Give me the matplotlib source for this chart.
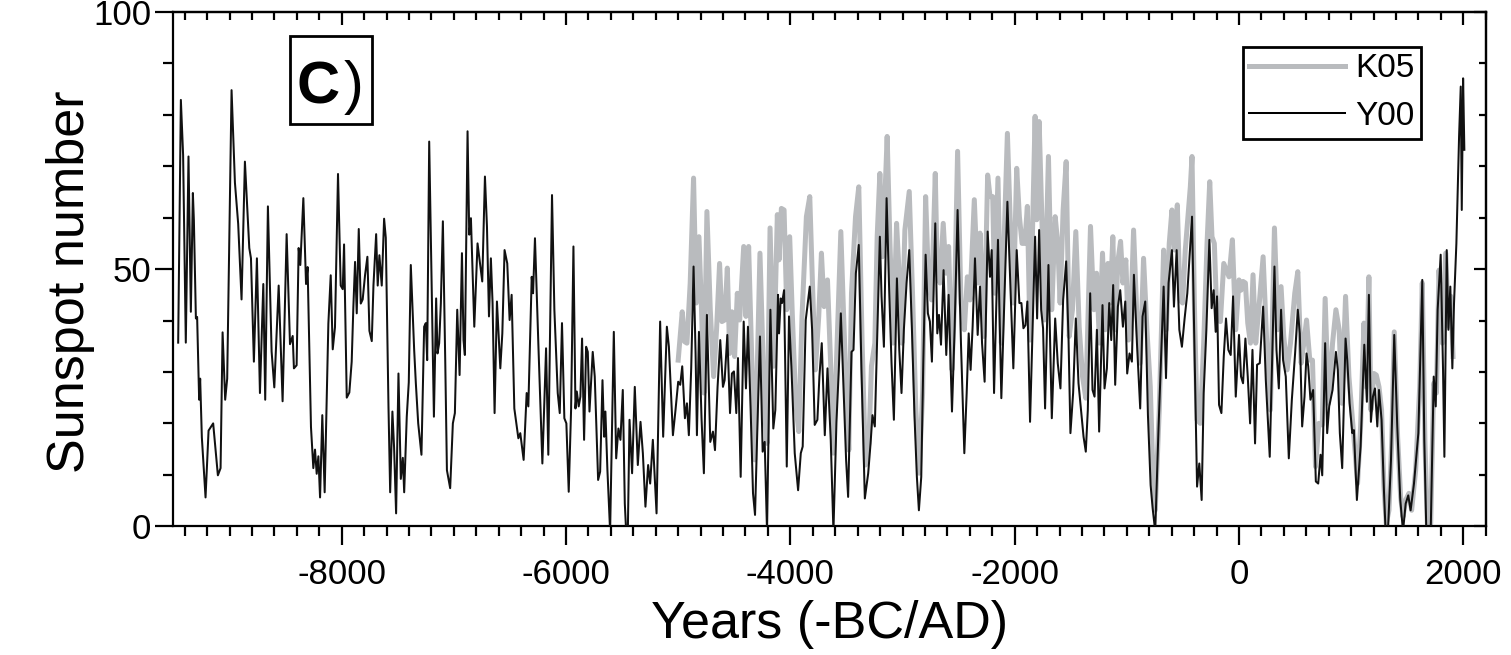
import matplotlib
matplotlib.use("Agg")
import matplotlib.pyplot as plt
from matplotlib.ticker import MultipleLocator, NullFormatter
from matplotlib.lines import Line2D
from matplotlib.patches import Rectangle

plt.rcParams['font.family'] = ['Liberation Sans', 'DejaVu Sans']
plt.rcParams['axes.unicode_minus'] = False

# ---------------- data ----------------
y00_years = [
    -9458, -9434, -9414, -9390, -9366, -9345, -9327, -9318, -9300, -9289, -9271, -9262, -9247, -9214,
    -9187, -9146, -9104, -9080, -9062, -9039, -9021, -8982, -8952, -8923, -8893, -8863, -8824, -8809,
    -8783, -8756, -8729, -8699, -8682, -8658, -8625, -8601, -8562, -8527, -8491, -8461, -8437, -8426,
    -8402, -8384, -8369, -8342, -8318, -8304, -8274, -8253, -8238, -8223, -8208, -8193, -8173, -8152,
    -8119, -8098, -8080, -8060, -8033, -8009, -7991, -7979, -7955, -7932, -7911, -7896, -7881, -7866,
    -7848, -7830, -7813, -7792, -7771, -7753, -7732, -7717, -7693, -7679, -7664, -7643, -7622, -7607,
    -7583, -7568, -7548, -7533, -7515, -7494, -7473, -7455, -7443, -7420, -7402, -7384,
    -7354, -7339, -7318, -7289, -7265, -7250, -7238, -7220, -7199, -7178, -7158, -7146, -7131, -7116,
    -7098, -7077, -7062, -7033, -7009, -6991, -6970, -6949, -6928, -6914, -6902, -6878, -6863, -6848,
    -6818, -6789, -6774, -6747, -6723, -6705, -6687, -6670, -6655, -6637, -6616, -6586, -6568, -6548,
    -6524, -6503, -6485, -6461, -6425, -6408, -6378, -6351, -6336, -6306, -6294, -6277, -6247, -6211,
    -6178, -6158, -6125, -6104, -6074, -6056, -6036, -6015, -5997, -5976, -5955,
    -5934, -5916, -5904, -5887, -5872, -5857, -5839, -5821, -5806, -5791, -5762, -5744, -5714, -5696,
    -5675, -5660, -5649, -5631, -5607, -5574, -5553, -5533, -5515, -5494, -5476, -5464, -5449, -5434,
    -5411, -5387, -5360, -5336, -5315, -5292, -5268, -5250, -5226, -5193, -5161, -5134, -5101, -5083,
    -5047, -5024, -5000, -4982, -4964, -4940, -4922, -4905, -4884, -4863, -4845, -4833, -4815, -4792,
    -4771, -4744, -4714, -4690, -4672, -4649, -4625, -4601,
    -4586, -4562, -4538, -4521, -4503, -4482, -4467, -4443, -4416, -4396, -4378, -4354, -4333, -4315,
    -4297, -4271, -4247, -4229, -4208, -4178, -4152, -4134, -4110, -4101, -4086, -4074, -4056, -4032,
    -4012, -3991, -3961, -3931, -3907, -3890, -3863, -3827, -3806, -3783, -3759, -3741, -3720, -3693,
    -3669, -3640, -3616, -3589, -3568, -3550, -3527, -3503, -3485, -3455, -3437, -3416, -3390, -3366,
    -3336, -3306, -3285, -3268, -3247, -3223,
    -3202, -3187, -3166, -3142, -3119, -3098, -3077, -3050, -3029, -3009, -2988, -2964, -2940, -2916,
    -2893, -2872, -2854, -2833, -2815, -2794, -2774, -2756, -2738, -2708, -2690, -2675, -2657, -2634,
    -2610, -2589, -2559, -2535, -2509, -2479, -2449, -2428, -2410, -2393, -2375, -2354, -2330, -2309,
    -2291, -2268, -2241, -2220, -2205, -2184, -2149, -2119, -2095, -2065, -2041, -2012, -1982, -1958,
    -1940, -1922, -1904, -1887, -1863,
    -1818, -1800, -1782, -1764, -1747, -1729, -1699, -1669, -1639, -1616, -1592, -1568, -1541, -1520,
    -1503, -1479, -1455, -1431, -1410, -1386, -1366, -1348, -1327, -1306, -1288, -1267, -1247, -1217,
    -1199, -1178, -1157, -1139, -1122, -1104, -1080, -1059, -1035, -1014, -997, -976, -955, -937,
    -910, -881, -860, -836, -812, -788, -770, -747, -717, -672, -651, -628, -598, -580, -556, -532,
    -509, -485, -461,
    -434, -419, -398, -374, -354, -333, -315, -291, -264, -244, -226, -208, -196, -178, -157, -136,
    -116, -95, -74, -53, -29, 0, 18, 36, 57, 78, 99, 120, 143, 161, 185, 215, 239, 274, 316, 334,
    355, 375, 393, 417, 444, 471, 500, 524, 542, 563, 584, 602, 617, 637, 661, 685, 706, 727, 742,
    768, 786, 804, 834, 864, 881, 899, 920,
    950, 965, 986, 1010, 1024, 1051, 1084, 1105, 1117, 1140, 1158, 1176, 1194, 1212, 1233, 1248,
    1271, 1292, 1307, 1328, 1355, 1384, 1411, 1438, 1462, 1486, 1509, 1530, 1560, 1599, 1634, 1652,
    1670, 1709, 1736, 1754, 1771, 1798, 1819, 1831, 1852, 1867, 1884, 1902, 1917, 1938, 1962, 1977,
    1986, 1998, 2009,
]
y00_values = [
    35.7, 82.9, 72.2, 35.7, 71.9, 41.7, 64.8, 59.5, 40.4, 40.7, 24.6, 28.7, 17.3, 5.6,
    18.6, 20, 9.9, 11.3, 37.7, 24.6, 28.7, 84.8, 66.8, 58.8, 44.1, 70.9, 54.1, 52.1,
    32, 52.1, 25.9, 47.1, 24.6, 62.2, 34, 27, 46.8, 24.3, 56.8, 35.4, 37, 30.7,
    31.3, 54.1, 50.8, 63.8, 47.1, 50.4, 19.3, 11.3, 14.9, 10.2, 13.6, 5.6, 21.6, 6.6,
    39.4, 48.8, 34.4, 38.7, 68.5, 46.8, 46.1, 54.8, 25, 26, 32, 42.7, 51.4, 41.4,
    57.8, 43.3, 44.1, 48.8, 52.4, 38, 36, 46.8, 56.8, 46.8, 52.7, 46.8, 59.8, 56.1,
    23.3, 6.6, 22.3, 15.3, 2.5, 29.7, 9.2, 13.3, 6.6, 21.3, 28, 50.8,
    34.3, 27.8, 20, 13.9, 38.8, 39.5, 32.3, 74.8, 47.9, 21.3, 44.3, 33.6, 35.6, 43.4,
    59.3, 32.3, 10.9, 7.4, 20, 22, 42.1, 29.4, 53.1, 36.2, 33.3, 76.8, 56.7, 59.9,
    38.8, 55, 52.4, 47.6, 68, 58.3, 40.8, 52.1, 43.4, 22, 43.7, 30.7, 37.5, 53.7,
    51.1, 40.1, 45, 22.9, 17.1, 18.1, 12.9, 25.9, 23.3, 48.5, 45.3, 56, 35.6, 12.2,
    34.6, 13.9, 64.4, 42.1, 25.9, 22, 39.5, 21, 20, 6.7, 22.6,
    54.4, 22.9, 26.2, 23.3, 25.2, 36.5, 16.8, 34.9, 33.9, 22.3, 33.9, 29.1, 9, 10.6,
    28.4, 17.4, 22.3, 10.9, -1, 37.8, 13.2, 19, 16.8, 26.5, 4.4, -1, -1, 20.7,
    10.3, 27.1, 11.9, 20.3, 14.2, 3.8, 11.9, 8.3, 16.8, 2.5, 39.8, 17.4, 38.8, 34.9,
    17.7, 22.6, 28.1, 27.5, 31.1, 21, 23.9, 17.7, 30.7, 50.5, 33.6, 17.7, 37.8, 21,
    10.3, 41.1, 16.4, 18.4, 14.8, 27.1, 36.2, 27.1,
    28.4, 37.2, 22, 29.7, 30.1, 22, 32.7, 9.6, 39.8, 26.8, 38.8, 22.6, 6.4, 2.2,
    16.8, 36.9, 14.5, 16.4, -1, 42.1, 19, 22.6, 45, 37.5, 44.3, 43.4, 45.9, 11.6,
    40.8, 31.1, 14.2, 7, 14.2, 15.5, 40.1, 46.6, 38.2, 19.7, 20.7, 29.1, 35.6, 17.7,
    30.7, 16.8, -1, 20.3, 30.4, 41.4, 27.5, 12.9, 5.7, 33.9, 34.3, 49.2, 54.7, 30.4,
    5.4, 10.3, 16.1, 21.6, 19.4, 38.8,
    56.3, 44.7, 34.9, 63.8, 45.9, 31.7, 20.7, 48.2, 34.3, 25.9, 38.2, 47.3, 53.7, 38.2,
    21.3, 9.6, 3.1, 9.6, 31.7, 52.8, 41.4, 39.8, 32, 58.9, 37.5, 41.1, 35.3, 49.8,
    33.3, 45, 22.3, 38.8, 61.5, 35.6, 14.2, 25.9, 37.5, 30.4, 38.8, 52.1, 37.2, 46.6,
    35.6, 28.1, 57.3, 48.5, 53.7, 25.9, 55.7, 24.9, 42.1, 63.1, 48.5, 30.7, 53.7, 43.4,
    43.4, 38.5, 39.1, 43.7, 20.3,
    56.3, 40.4, 57.6, 42.1, 38.5, 22.9, 50.8, 21, 40.4, 31.7, 26.8, 44, 51.5, 36.5,
    18.1, 25.9, 40.4, 27.8, 22.9, 17.4, 14.5, 22.6, 45.3, 26.5, 25.2, 38.2, 18.4, 43,
    26.8, 30.7, 43.4, 36.2, 46.9, 27.5, 42.7, 45.9, 38.8, 43.7, 29.7, 33.6, 32, 48.9,
    35.6, 22.9, 40.8, 43.7, 21.6, 8, 3.5, -1, 19.4, 46.6, 28.8, 47.3, 53.7, 42.7, 53.7, 38.2,
    34.9, 40.4, 45.3,
    55, 60.2, 35.6, 7.7, 12.2, 5.1, 25.9, 38.2, 55.7, 42.4, 45.9, 37.8, 44.7, 23.6, 22, 33,
    40.4, 34.3, 33.3, 44.7, 25.2, 37.2, 29.1, 27.8, 36.5, 29.1, 20, 34.3, 16.1, 31.4, 31.7, 42.7, 28.4, 13.5, 50.5, 34.3,
    26.8, 42.1, 32.3, 29.1, 13.2, 24.6, 33.6, 42.1, 37.5, 19.4, 25.2, 33.6, 31.1, 24.6, 26.5, 8.7, 8.3, 13.9, 9.9,
    35.6, 18.1, 23.3, 26.5, 33.9, 30.4, 18.1, 11.3,
    36.5, 32.3, 23.9, 18.1, 18.7, 5.1, 15.5, 28.4, 35.3, 24.2, 45, 20.3, 25.2, 26.8, 19.4, 26.5,
    20.7, 7, -1, -1, 12.9, 37.2, 19.4, 5.1, -1, 4.4, 6, 3.1, 8.3, 18.1, 47.9, 16.8,
    -1, -1, 29.1, 23.3, 42.1, 52.8, 30.4, 13.5, 53.7, 38.2, 46.6, 30.7, 43.4, 55, 75.8, 85.5,
    61.5, 87.1, 73.2,
]

k05_years = [
    -5000, -4964, -4943, -4922, -4893, -4863, -4839, -4815, -4792, -4771, -4744, -4714, -4684, -4658,
    -4631, -4610,
    -4586, -4562, -4541, -4521, -4497, -4473, -4452, -4416, -4396, -4372, -4348, -4318, -4297, -4271,
    -4247, -4229, -4208, -4181, -4149, -4116, -4101, -4080, -4056, -4032, -4006, -3982, -3952, -3925,
    -3896, -3857, -3827, -3803, -3777, -3747, -3723, -3699, -3669, -3640, -3616, -3583, -3550, -3527,
    -3503, -3479, -3455, -3419, -3390, -3360, -3330, -3300, -3277, -3247, -3226,
    -3202, -3178, -3157, -3137, -3113, -3083, -3053, -3032, -3006, -2979, -2940, -2910, -2881, -2851,
    -2821, -2794, -2768, -2741, -2708, -2690, -2666, -2637, -2613, -2589, -2559, -2535, -2509, -2479,
    -2449, -2422, -2398, -2360, -2330, -2309, -2273, -2241, -2220, -2196, -2178, -2149, -2119, -2095,
    -2065, -2041, -2012, -1982, -1958, -1934, -1910, -1887, -1863,
    -1818, -1803, -1782, -1758, -1735, -1699, -1669, -1639, -1616, -1595, -1568, -1541, -1514, -1485,
    -1455, -1425, -1395, -1366, -1324, -1294, -1270, -1244, -1217, -1193, -1169, -1148, -1125, -1104,
    -1080, -1056, -1035, -1009, -985, -961, -940, -913, -881, -851, -821, -791, -770, -747, -711,
    -672, -648, -622, -598, -574, -550, -526, -503, -479,
    -434, -419, -398, -374, -345, -315, -285, -261, -241, -220, -196, -166, -136, -113, -89, -59,
    -29, 0, 18, 36, 57, 78, 102, 125, 149, 176, 215, 245, 280, 316, 346, 375, 399, 429, 459, 497,
    524, 554, 578, 602, 631, 655, 682, 712, 742, 768, 798, 834, 864, 893, 917,
    950, 980, 1024, 1057, 1084, 1114, 1135, 1158, 1176, 1203, 1224, 1248, 1271, 1292, 1313, 1337,
    1361, 1384, 1414, 1441, 1462, 1486, 1515, 1539, 1575, 1611, 1634, 1658, 1679, 1709, 1736, 1760,
    1783, 1813, 1843, 1867, 1890, 1908,
]
k05_values = [
    32.3, 41.7, 35.9, 35.6, 47.3, 67.7, 43.4, 56.3, 42.1, 25.9, 61.2, 42.1, 29.1, 38.2,
    51.1, 39.8,
    40.1, 50.2, 33.6, 41.7, 33, 45.3, 40.1, 54.4, 40.8, 54.4, 35.6, 12.9, 29.1, 53.1,
    35.6, 22, 16.1, 58, 31.1, 60.6, 51.8, 61.8, 61.5, 42.1, 56.3, 40.8, 23.9, 18.4,
    40.8, 60.2, 64.1, 47.3, 30.4, 40.8, 53.1, 42.7, 47.9, 31.1, 14.2, 35.6, 57.3, 42.1,
    27.1, 14.8, 45.3, 60.2, 66, 35.6, 11.9, 16.1, 31.1, 35.6, 56.3,
    68.6, 52.4, 64.1, 75.8, 55.7, 35.6, 58.9, 49.8, 35.6, 57.6, 65.1, 44.7, 22.6, 10.3,
    25.9, 64.1, 47.3, 44, 68.6, 49.2, 47.3, 58.9, 49.2, 54.4, 30.4, 44.7, 72.9, 43.4,
    38.2, 48.5, 44, 63.5, 47.3, 57, 36.9, 68.3, 64.1, 64.1, 45.3, 67.7, 35.6, 55,
    76.4, 60.2, 43.4, 69.6, 60.2, 55, 55, 62.2, 36.2,
    79.7, 59.6, 78.7, 60.2, 40.1, 71.9, 42.1, 60.2, 55, 43.4, 61.5, 70.9, 36.9, 42.1,
    57.3, 38.8, 29.1, 24.9, 58.3, 42.1, 49.2, 35.6, 53.1, 38.2, 51.1, 43.4, 56.3, 38.2,
    51.5, 55.4, 47.3, 51.8, 36.2, 43.4, 57.6, 42.1, 31.7, 52.1, 38.2, 27.1, 12.2, 3.1, 22.6,
    53.7, 38.2, 55, 61.5, 53.7, 62.5, 44, 43.4, 53.7,
    66, 71.9, 43.4, 20.7, 20, 35.6, 55, 67, 56.3, 55, 40.1, 39.8, 51.1, 49.8, 48.5, 55.7,
    38.2, 47.9, 45.9, 47.6, 47.3, 39.5, 35.6, 48.9, 35.6, 42.1, 52.4, 36.9, 22.6, 58, 38.2, 46.6, 36.9, 30.4, 35.6, 45.3,
    49.5, 31.7, 35.6, 40.1, 32.3, 32.3, 11.6, 20, 19.7, 44.3, 23.9, 35.6, 42.1, 38.2, 23.9,
    44.7, 29.1, 17.4, 8.3, 19.4, 39.5, 27.1, 48.5, 22.6, 29.7, 29.4, 27.1, 22.6, 7.7, 0.5, 3.1,
    16.1, 37.8, 17.4, 5.7, 1.8, 5.1, 6.4, 3.1, 10.9, 27.1, 47.3, 16.1, 0.5, 0.5, 27.8, 25.9,
    49.8, 35.6, 53.1, 38.9, 44.7, 33,
]

series_labels = ["K05", "Y00"]
x_limits = (-9500, 2200)
y_limits = (0, 100)
x_major_ticks = [-8000, -6000, -4000, -2000, 0, 2000]
y_major_ticks = [0, 50, 100]

# ---------------- figure ----------------
fig = plt.figure(figsize=(15.11, 6.55), dpi=100)
ax = fig.add_axes([0.1148, 0.1966, 0.8685, 0.7851])

grey = "#b9bbbe"
ax.plot(k05_years, k05_values, color=grey, lw=3.6, zorder=2)
ax.plot(y00_years, y00_values, color="#111111", lw=1.45, zorder=3)

ax.set_xlim(*x_limits)
ax.set_ylim(*y_limits)
ax.set_xticks(x_major_ticks)
ax.set_yticks(y_major_ticks)
ax.xaxis.set_minor_locator(MultipleLocator(200))
ax.yaxis.set_minor_locator(MultipleLocator(10))

for sp in ax.spines.values():
    sp.set_linewidth(1.6)

ax.tick_params(axis="x", which="major", direction="out", length=14, width=1.6,
               labelsize=25, pad=9, top=False)
ax.tick_params(axis="x", which="minor", direction="out", length=7, width=1.6, top=False)
ax.tick_params(axis="y", which="major", direction="out", length=13, width=1.6,
               labelsize=25, pad=3, right=False)
ax.tick_params(axis="y", which="minor", direction="out", length=7, width=1.6, right=False)

# mirrored inward ticks on top and right
secx = ax.secondary_xaxis("top")
secx.set_xticks(x_major_ticks)
secx.xaxis.set_minor_locator(MultipleLocator(200))
secx.tick_params(axis="x", which="major", direction="in", length=9, width=1.6, labeltop=False)
secx.tick_params(axis="x", which="minor", direction="in", length=5.5, width=1.6)
secx.xaxis.set_major_formatter(NullFormatter())
secx.spines["top"].set_linewidth(1.6)

secy = ax.secondary_yaxis("right")
secy.set_yticks(y_major_ticks)
secy.yaxis.set_minor_locator(MultipleLocator(10))
secy.tick_params(axis="y", which="major", direction="in", length=9, width=1.6, labelright=False)
secy.tick_params(axis="y", which="minor", direction="in", length=5, width=1.6)
secy.yaxis.set_major_formatter(NullFormatter())
secy.spines["right"].set_linewidth(1.6)

ax.set_xlabel("Years (-BC/AD)", fontsize=37.5)
ax.xaxis.set_label_coords(0.5, -0.143)
ax.set_ylabel("Sunspot number", fontsize=37.5)
ax.yaxis.set_label_coords(-0.060, 0.475)

# panel label "C)"
ax.add_patch(Rectangle((0.0889, 0.7826), 0.0622, 0.1704, transform=ax.transAxes,
                       facecolor="white", edgecolor="black", lw=2.0, zorder=5))
ax.text(0.0935, 0.823, "C", transform=ax.transAxes, fontsize=43, fontweight="bold",
        ha="left", va="baseline", zorder=6)
ax.text(0.1295, 0.823, ")", transform=ax.transAxes, fontsize=43,
        ha="left", va="baseline", zorder=6)

# legend
handles = [Line2D([], [], color=grey, lw=3.6), Line2D([], [], color="black", lw=1.45)]
leg = ax.legend(handles, series_labels, loc="upper right", bbox_to_anchor=(0.9507, 0.9325),
                borderaxespad=0, fontsize=24, frameon=True, fancybox=False,
                edgecolor="black", framealpha=1, borderpad=0.2, handlelength=2.87,
                handletextpad=0.3, labelspacing=0.5)
leg.get_frame().set_linewidth(2.0)
leg.set_zorder(7)

fig.savefig("out.png", dpi=100)
